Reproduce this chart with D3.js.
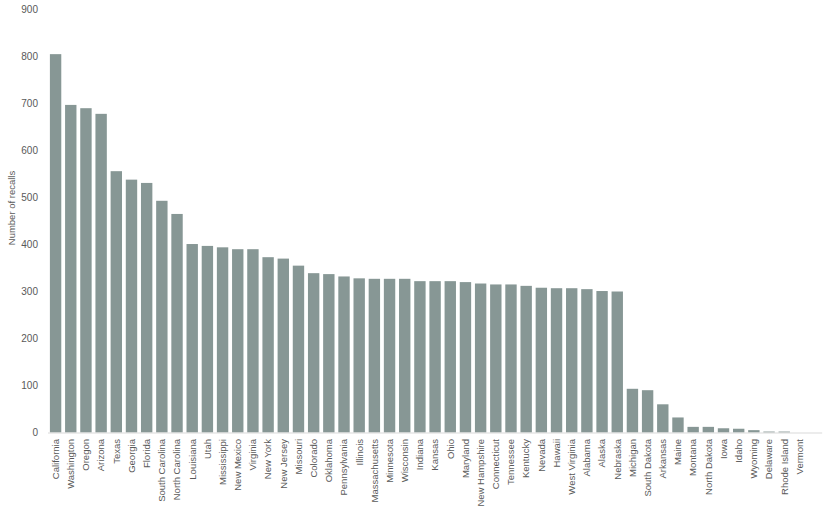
<!DOCTYPE html>
<html>
<head>
<meta charset="utf-8">
<script src="https://cdn.jsdelivr.net/npm/d3@7"></script>
<style>
    body { margin: 0; background: #fff; }
    text { font-family: 'Liberation Sans', 'DejaVu Sans', sans-serif; fill: #595959; }
</style>
</head>
<body>
<div id="chart"></div>
<script>
var states = ['California', 'Washington', 'Oregon', 'Arizona', 'Texas', 'Georgia',
    'Florida', 'South Carolina', 'North Carolina', 'Louisiana', 'Utah', 'Mississippi',
    'New Mexico', 'Virginia', 'New York', 'New Jersey', 'Missouri', 'Colorado',
    'Oklahoma', 'Pennsylvania', 'Illinois', 'Massachusetts', 'Minnesota', 'Wisconsin',
    'Indiana', 'Kansas', 'Ohio', 'Maryland', 'New Hampshire', 'Connecticut',
    'Tennessee', 'Kentucky', 'Nevada', 'Hawaii', 'West Virginia', 'Alabama', 'Alaska',
    'Nebraska', 'Michigan', 'South Dakota', 'Arkansas', 'Maine', 'Montana',
    'North Dakota', 'Iowa', 'Idaho', 'Wyoming', 'Delaware', 'Rhode Island', 'Vermont'];

var recalls = [805, 697, 690, 678, 556, 538, 531, 493, 465, 401, 397, 394,
    390, 390, 373, 370, 355, 339, 337, 332, 328, 327, 327, 327,
    322, 322, 322, 320, 317, 315, 315, 312, 308, 307, 307, 305, 301,
    300, 93, 90, 60, 32, 12, 12, 9, 8, 5, 2, 2, 0];

var yTicks = [0, 100, 200, 300, 400, 500, 600, 700, 800, 900];

var width = 829,
    height = 511,
    left = 48,
    band = 15.18,
    y0 = 432.5,
    yTop = 9.5,
    svg = d3.select('#chart').append('svg')
        .attr('width', width)
        .attr('height', height),
    x, y, data;

data = states.map(function (s, i) {
    return { state: s, value: recalls[i] };
});

x = d3.scaleBand()
    .domain(states)
    .range([left, left + band * states.length])
    .paddingInner(0.25)
    .paddingOuter(0.125);

y = d3.scaleLinear()
    .domain([0, 900])
    .range([y0, yTop]);

// y tick labels (no axis line in the original)
svg.selectAll('.ytick')
    .data(yTicks)
    .enter()
    .append('text')
    .attr('class', 'ytick')
    .attr('x', 38)
    .attr('y', function (d) { return y(d); })
    .attr('dy', '0.35em')
    .attr('text-anchor', 'end')
    .style('font-size', '10px')
    .text(function (d) { return d; });

svg.append('text')
    .attr('transform', 'translate(12,208) rotate(-90)')
    .attr('text-anchor', 'middle')
    .attr('dy', '0.35em')
    .style('font-size', '9.5px')
    .text('Number of recalls');

svg.selectAll('.bar')
    .data(data)
    .enter()
    .append('rect')
    .attr('class', 'bar')
    .attr('x', function (d) { return x(d.state); })
    .attr('width', x.bandwidth())
    .attr('y', function (d) { return y(d.value); })
    .attr('height', function (d) { return y0 - y(d.value); })
    .style('fill', '#879795');

// baseline runs one band past the last state, as in the original
svg.append('line')
    .attr('x1', left)
    .attr('x2', left + band * (states.length + 1))
    .attr('y1', y0 + 0.5)
    .attr('y2', y0 + 0.5)
    .style('stroke', '#d9d9d9')
    .style('stroke-width', 1);

svg.selectAll('.xlabel')
    .data(states)
    .enter()
    .append('text')
    .attr('class', 'xlabel')
    .attr('transform', function (d) {
        return 'translate(' + (x(d) + x.bandwidth() / 2) + ',439) rotate(-90)';
    })
    .attr('dy', '0.35em')
    .attr('text-anchor', 'end')
    .style('font-size', '9.5px')
    .text(function (d) { return d; });
</script>
</body>
</html>
